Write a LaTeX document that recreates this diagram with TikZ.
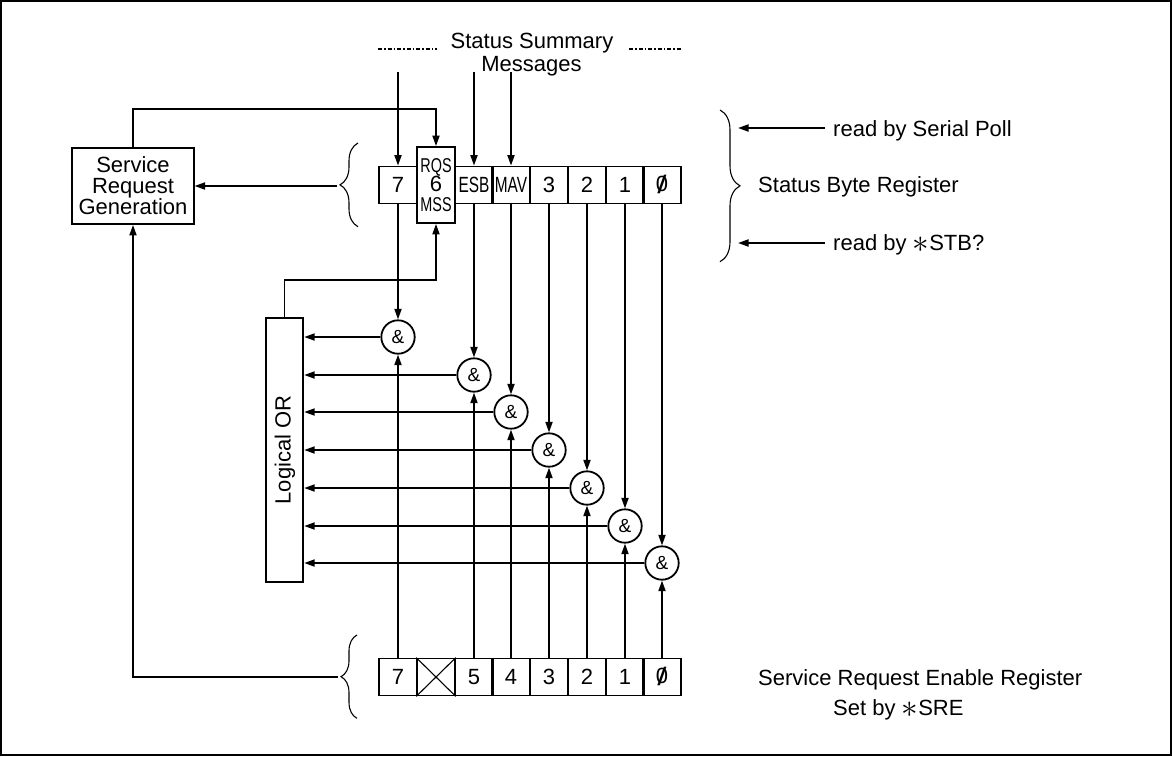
\documentclass[tikz,border=0pt]{standalone}
\usepackage{fontspec}
\usepackage{graphicx}
\setmainfont{Liberation Sans}
\usetikzlibrary{arrows.meta,decorations.pathreplacing}
\newcommand{\slz}{\ooalign{\hfil0\hfil\cr\hfil\raisebox{-0.08em}{\scalebox{1.5}[1.15]{/}}\hfil\cr}}
\newcommand{\sqz}[1]{\scalebox{0.7}[1]{#1}}
\newcommand{\sqzb}[1]{{\fontsize{20}{20}\selectfont\scalebox{0.72}[1]{#1}}}
\newcommand{\astk}{\raisebox{-2.5pt}{\scalebox{1.6}{$\ast$}}}
\begin{document}
\begin{tikzpicture}[x=1pt,y=-1pt,
  every node/.style={font=\fontsize{22}{21}\selectfont, inner sep=0pt},
  ln/.style={line width=1.8pt},
  arr/.style={ln,-{Triangle[length=10.5pt,width=7pt]}},
  cell/.style={draw,ln,minimum width=37.8pt,minimum height=37pt},
  gate/.style={draw,ln,circle,minimum size=33.4pt,font=\fontsize{19}{19}\selectfont},
  brc/.style={decorate,decoration={brace,amplitude=#1},line width=1.1pt},
  ddash/.style={line width=1.3pt,dash pattern=on 4pt off 2pt on 1.5pt off 2pt}
]
\useasboundingbox (0,0) rectangle (1172,756);
\draw[line width=2.5pt] (1,1) rectangle (1171,755);

% top labels
\node[anchor=base] (ss1) at (532,48.3) {Status Summary};
\node[anchor=base] (ss2) at (531.5,71.7) {Messages};
\draw[ddash] (378,49) -- (437,49);
\draw[ddash] (629,49) -- (682,49);

% Service Request Generation
\node[draw,ln,minimum width=121.3pt,minimum height=76pt,align=center] (srg) at (133,186) {Service\\Request\\Generation};

% Status Byte Register cells
\node[cell] (s7) at (398,185) {7};
\node[cell,minimum height=76pt,align=center] (s6) at (436,185) {\sqzb{RQS}\\[-1.5pt]6\\[-1.5pt]\sqzb{MSS}};
\node[cell] (s5) at (474,185) {\sqz{ESB}};
\node[cell] (s4) at (511,185) {\sqz{MAV}};
\node[cell] (s3) at (549,185) {3};
\node[cell] (s2) at (587,185) {2};
\node[cell] (s1) at (625,185) {1};
\node[cell] (s0) at (662,185) {\slz};

% Enable register cells
\node[cell] (e7) at (398,677) {7};
\node[cell] (e6) at (436,677) {};
\node[cell] (e5) at (474,677) {5};
\node[cell] (e4) at (511,677) {4};
\node[cell] (e3) at (549,677) {3};
\node[cell] (e2) at (587,677) {2};
\node[cell] (e1) at (625,677) {1};
\node[cell] (e0) at (662,677) {\slz};
\draw[line width=1.1pt] (e6.north west) -- (e6.south east) (e6.north east) -- (e6.south west);

% gates
\node[gate] (g7) at (398,337) {\&};
\node[gate] (g5) at (474,375) {\&};
\node[gate] (g4) at (511,412) {\&};
\node[gate] (g3) at (549,450) {\&};
\node[gate] (g2) at (587,488) {\&};
\node[gate] (g1) at (625,526) {\&};
\node[gate] (g0) at (662,563) {\&};

% Logical OR
\node[draw,ln,minimum width=37.6pt,minimum height=264.6pt] (or) at (284.5,450) {};
\node[rotate=90] (ort) at (285,450) {Logical OR};

% braces
\draw[brc=18pt] (358,226.7) -- (358,143);
\draw[brc=16pt] (357,718.3) -- (357,635);
\draw[brc=20pt] (720,110) -- (720,261.7);

% right labels
\node[anchor=base west] (t1) at (833,136.7) {read by Serial Poll};
\node[anchor=base west] (t2) at (758,192.3) {Status Byte Register};
\node[anchor=base west] (t3) at (833,250) {read by \astk STB?};
\node[anchor=base west] (t4) at (758,685.5) {Service Request Enable Register};
\node[anchor=base west] (t5) at (833,715) {Set by \astk SRE};

% coordinates
\coordinate (i7) at (398,72);
\coordinate (i5) at (474,72);
\coordinate (i4) at (511,72);
\coordinate (top) at (0,109);
\coordinate (orj) at (0,280);
\coordinate (bt1) at (337,186);
\coordinate (bt2) at (338,677);
\coordinate (r1a) at (825,128);
\coordinate (r1b) at (738,128);
\coordinate (r2a) at (825,243);
\coordinate (r2b) at (738,243);

% connectors
\draw[arr] (i7) -- (s7.north);
\draw[arr] (i5) -- (s5.north);
\draw[arr] (i4) -- (s4.north);
\draw[arr] (srg.north) -- (srg.north |- top) -| (s6.north);
\draw[arr] (bt1) -- (srg.east);
\draw[arr] (or.north) -- (or.north |- orj) -| (s6.south);
\draw[arr] (bt2) -| (srg.south);
\draw[arr] (r1a) -- (r1b);
\draw[arr] (r2a) -- (r2b);

\foreach \b in {7,5,4,3,2,1,0}{
  \draw[arr] (s\b.south) -- (g\b.north);
  \draw[arr] (e\b.north) -- (g\b.south);
  \draw[arr] (g\b.west) -- (g\b.west -| or.east);
}
\end{tikzpicture}
\end{document}
